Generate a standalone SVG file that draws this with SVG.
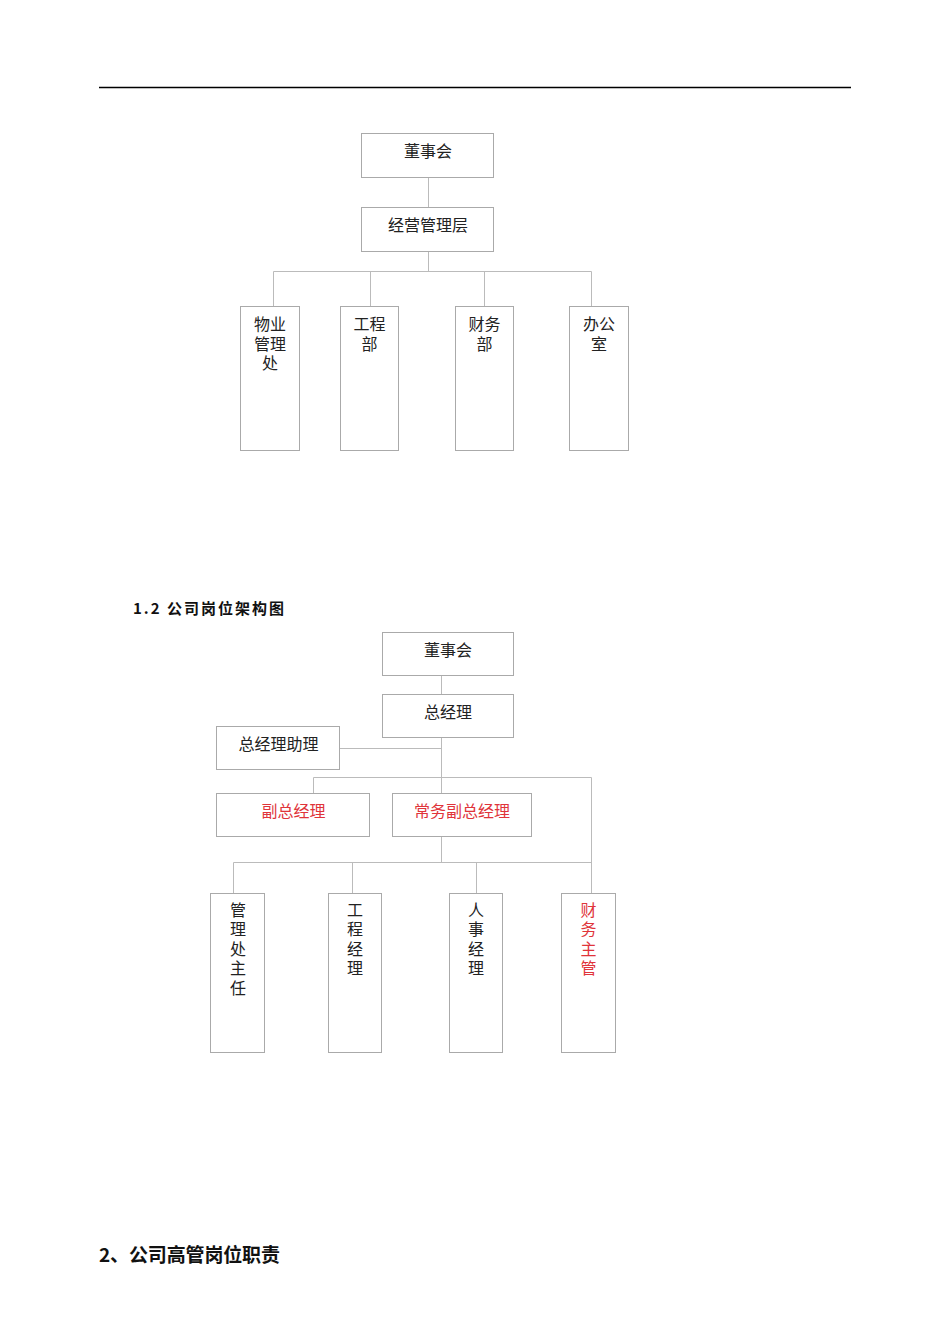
<svg xmlns="http://www.w3.org/2000/svg" width="950" height="1344" viewBox="0 0 950 1344">
<style>
.box{fill:#fff;stroke:#aaaaaa;stroke-width:1}
.ln{fill:none;stroke:#bbbbbb;stroke-width:1}
.t{font-family:"Noto Sans CJK SC","Liberation Serif",sans-serif;font-size:16px;fill:#222;text-anchor:middle}
.v{font-family:"Noto Sans CJK SC","Liberation Serif",sans-serif;font-size:16px;fill:#222;writing-mode:vertical-rl;text-anchor:start;letter-spacing:3.5px}
.r{fill:#e0343a}
.h{font-family:"Noto Sans CJK SC","Liberation Sans",sans-serif;font-weight:bold;fill:#111}
</style>
<rect width="950" height="1344" fill="#fff"/>
<line x1="99" y1="87.5" x2="851" y2="87.5" stroke="#000" stroke-width="1.4"/>

<g id="connectors1">
<path class="ln" d="M428.5 177V207M428.5 251V271.5M273.5 271.5H591.5M273.5 271.5V306M370.5 271.5V306M484.5 271.5V306M591.5 271.5V306"/>
</g>
<g id="n1-board"><rect class="box" x="361.5" y="133.5" width="132" height="44"/><text class="t" x="428" y="157">董事会</text></g>
<g id="n1-mgmt"><rect class="box" x="361.5" y="207.5" width="132" height="44"/><text class="t" x="428" y="231">经营管理层</text></g>
<g id="n1-wy"><rect class="box" x="240.5" y="306.5" width="59" height="144"/><text class="t" x="270" y="330">物业<tspan x="270" dy="19.5">管理</tspan><tspan x="270" dy="19.5">处</tspan></text></g>
<g id="n1-gc"><rect class="box" x="340.5" y="306.5" width="58" height="144"/><text class="t" x="369.5" y="330">工程<tspan x="369.5" dy="19.5">部</tspan></text></g>
<g id="n1-cw"><rect class="box" x="455.5" y="306.5" width="58" height="144"/><text class="t" x="484.5" y="330">财务<tspan x="484.5" dy="19.5">部</tspan></text></g>
<g id="n1-bg"><rect class="box" x="569.5" y="306.5" width="59" height="144"/><text class="t" x="599" y="330">办公<tspan x="599" dy="19.5">室</tspan></text></g>

<text class="h" x="133" y="614" font-size="15" textLength="151" lengthAdjust="spacing">1.2 公司岗位架构图</text>

<g id="connectors2">
<path class="ln" d="M441.5 675V694M441.5 737V793M340 748.5H441.5M313.5 777.5H591.5M313.5 777.5V793M591.5 777.5V893M441.5 836V862.5M233.5 862.5H591.5M233.5 862.5V893M352.5 862.5V893M476.5 862.5V893"/>
</g>
<g id="n2-board"><rect class="box" x="382.5" y="632.5" width="131" height="43"/><text class="t" x="448" y="656">董事会</text></g>
<g id="n2-gm"><rect class="box" x="382.5" y="694.5" width="131" height="43"/><text class="t" x="448" y="718">总经理</text></g>
<g id="n2-asst"><rect class="box" x="216.5" y="726.5" width="123" height="43"/><text class="t" x="278.5" y="750">总经理助理</text></g>
<g id="n2-vgm"><rect class="box" x="216.5" y="793.5" width="153" height="43"/><text class="t r" x="293.5" y="817">副总经理</text></g>
<g id="n2-evgm"><rect class="box" x="392.5" y="793.5" width="139" height="43"/><text class="t r" x="462" y="817">常务副总经理</text></g>
<g id="n2-glc"><rect class="box" x="210.5" y="893.5" width="54" height="159"/><text class="v" x="238" y="901.5">管理处主任</text></g>
<g id="n2-gcjl"><rect class="box" x="328.5" y="893.5" width="53" height="159"/><text class="v" x="355" y="901.5">工程经理</text></g>
<g id="n2-rsjl"><rect class="box" x="449.5" y="893.5" width="53" height="159"/><text class="v" x="476" y="901.5">人事经理</text></g>
<g id="n2-cwzg"><rect class="box" x="561.5" y="893.5" width="54" height="159"/><text class="v r" x="588.5" y="901.5">财务主管</text></g>

<text class="h" x="99" y="1262" font-size="19" textLength="181" lengthAdjust="spacing">2、公司高管岗位职责</text>
</svg>
